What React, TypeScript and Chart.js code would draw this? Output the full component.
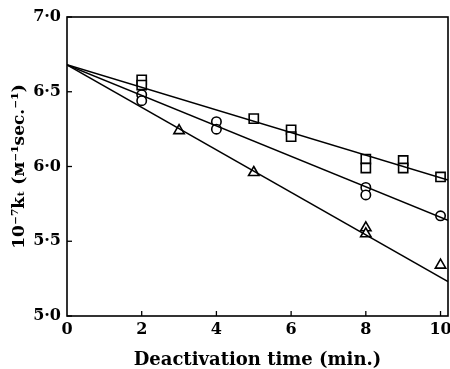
import React, { useEffect, useRef } from "react";
import { Chart, registerables } from "chart.js";

Chart.register(...registerables);

const squareX = [2, 2, 5, 6, 6, 8, 8, 9, 9, 10];
const squareY = [6.58, 6.545, 6.32, 6.245, 6.2, 6.05, 5.99, 6.04, 5.99, 5.93];
const circleX = [2, 2, 4, 4, 8, 8, 10];
const circleY = [6.48, 6.44, 6.3, 6.25, 5.86, 5.81, 5.67];
const triangleX = [3, 5, 8, 8, 10];
const triangleY = [6.24, 5.96, 5.59, 5.55, 5.34];

const lineX = [0, 10.2];
const squareLineY = [6.68, 5.91];
const circleLineY = [6.68, 5.64];
const triangleLineY = [6.68, 5.23];

const xTicks = [0, 2, 4, 6, 8, 10];
const yTicks = [5.0, 5.5, 6.0, 6.5, 7.0];

const FONT = "'DejaVu Serif', serif";

const zip = (xs: number[], ys: number[]) => xs.map((x, i) => ({ x, y: ys[i] }));

const framePlugin = {
  id: "frame",
  afterDraw(chart: any) {
    const { ctx, chartArea: a } = chart;
    ctx.save();
    ctx.strokeStyle = "#000";
    ctx.lineWidth = 1.6;
    ctx.strokeRect(a.left, a.top, a.right - a.left, a.bottom - a.top);
    ctx.lineWidth = 1.3;
    const xs = chart.scales.x;
    const ys = chart.scales.y;
    for (const v of xTicks) {
      if (v === 0) continue;
      const px = xs.getPixelForValue(v);
      ctx.beginPath();
      ctx.moveTo(px, a.bottom);
      ctx.lineTo(px, a.bottom - 5);
      ctx.stroke();
    }
    for (const v of yTicks) {
      const py = ys.getPixelForValue(v);
      ctx.beginPath();
      ctx.moveTo(a.left, py);
      ctx.lineTo(a.left + 5, py);
      ctx.stroke();
    }
    ctx.restore();
  },
};

export default function App() {
  const ref = useRef<HTMLCanvasElement>(null);
  useEffect(() => {
    document.body.style.margin = "0";
    const pointCommon = {
      showLine: false,
      borderColor: "#000",
      backgroundColor: "#fff",
      borderWidth: 1.6,
    };
    const lineCommon = {
      showLine: true,
      borderColor: "#000",
      borderWidth: 1.5,
      pointRadius: 0,
      fill: false,
    };
    const chart = new Chart(ref.current!, {
      type: "scatter",
      data: {
        datasets: [
          { ...lineCommon, data: zip(lineX, squareLineY) },
          { ...lineCommon, data: zip(lineX, circleLineY) },
          { ...lineCommon, data: zip(lineX, triangleLineY) },
          { ...pointCommon, data: zip(squareX, squareY), pointStyle: "rect", pointRadius: 6.5 },
          { ...pointCommon, data: zip(circleX, circleY), pointStyle: "circle", pointRadius: 4.7 },
          { ...pointCommon, data: zip(triangleX, triangleY), pointStyle: "triangle", pointRadius: 6 },
        ],
      },
      options: {
        animation: false,
        responsive: false,
        layout: { autoPadding: false, padding: { top: 17, right: 2, left: 0, bottom: 0 } },
        plugins: { legend: { display: false }, tooltip: { enabled: false } },
        scales: {
          x: {
            type: "linear",
            min: 0,
            max: 10.2,
            afterBuildTicks: (s: any) => {
              s.ticks = xTicks.map((v) => ({ value: v }));
            },
            afterFit: (s: any) => {
              s.height = 53;
              s.paddingLeft = 0;
              s.paddingRight = 0;
            },
            grid: { display: false, drawTicks: false },
            border: { display: false },
            ticks: {
              color: "#000",
              padding: 4,
              font: { family: FONT, size: 16, weight: "bold" },
              callback: (v: any) => String(v),
            },
            title: {
              display: true,
              text: "Deactivation time (min.)",
              color: "#000",
              font: { family: FONT, size: 18, weight: "bold" },
              padding: { top: 0, bottom: -2 },
            },
          },
          y: {
            type: "linear",
            min: 5,
            max: 7,
            afterBuildTicks: (s: any) => {
              s.ticks = yTicks.map((v) => ({ value: v }));
            },
            afterFit: (s: any) => {
              s.width = 67;
              s.paddingTop = 0;
              s.paddingBottom = 0;
            },
            grid: { display: false, drawTicks: false },
            border: { display: false },
            ticks: {
              color: "#000",
              padding: 6,
              font: { family: FONT, size: 16, weight: "bold" },
              callback: (v: any) => Number(v).toFixed(1).replace(".", "·"),
            },
            title: {
              display: true,
              text: "10⁻⁷kₜ (ᴍ⁻¹sec.⁻¹)",
              color: "#000",
              font: { family: FONT, size: 17, weight: "bold" },
              padding: { top: 9, bottom: 2 },
            },
          },
        },
      },
      plugins: [framePlugin],
    });
    return () => chart.destroy();
  }, []);
  return <canvas ref={ref} width={450} height={369} style={{ display: "block" }} />;
}
